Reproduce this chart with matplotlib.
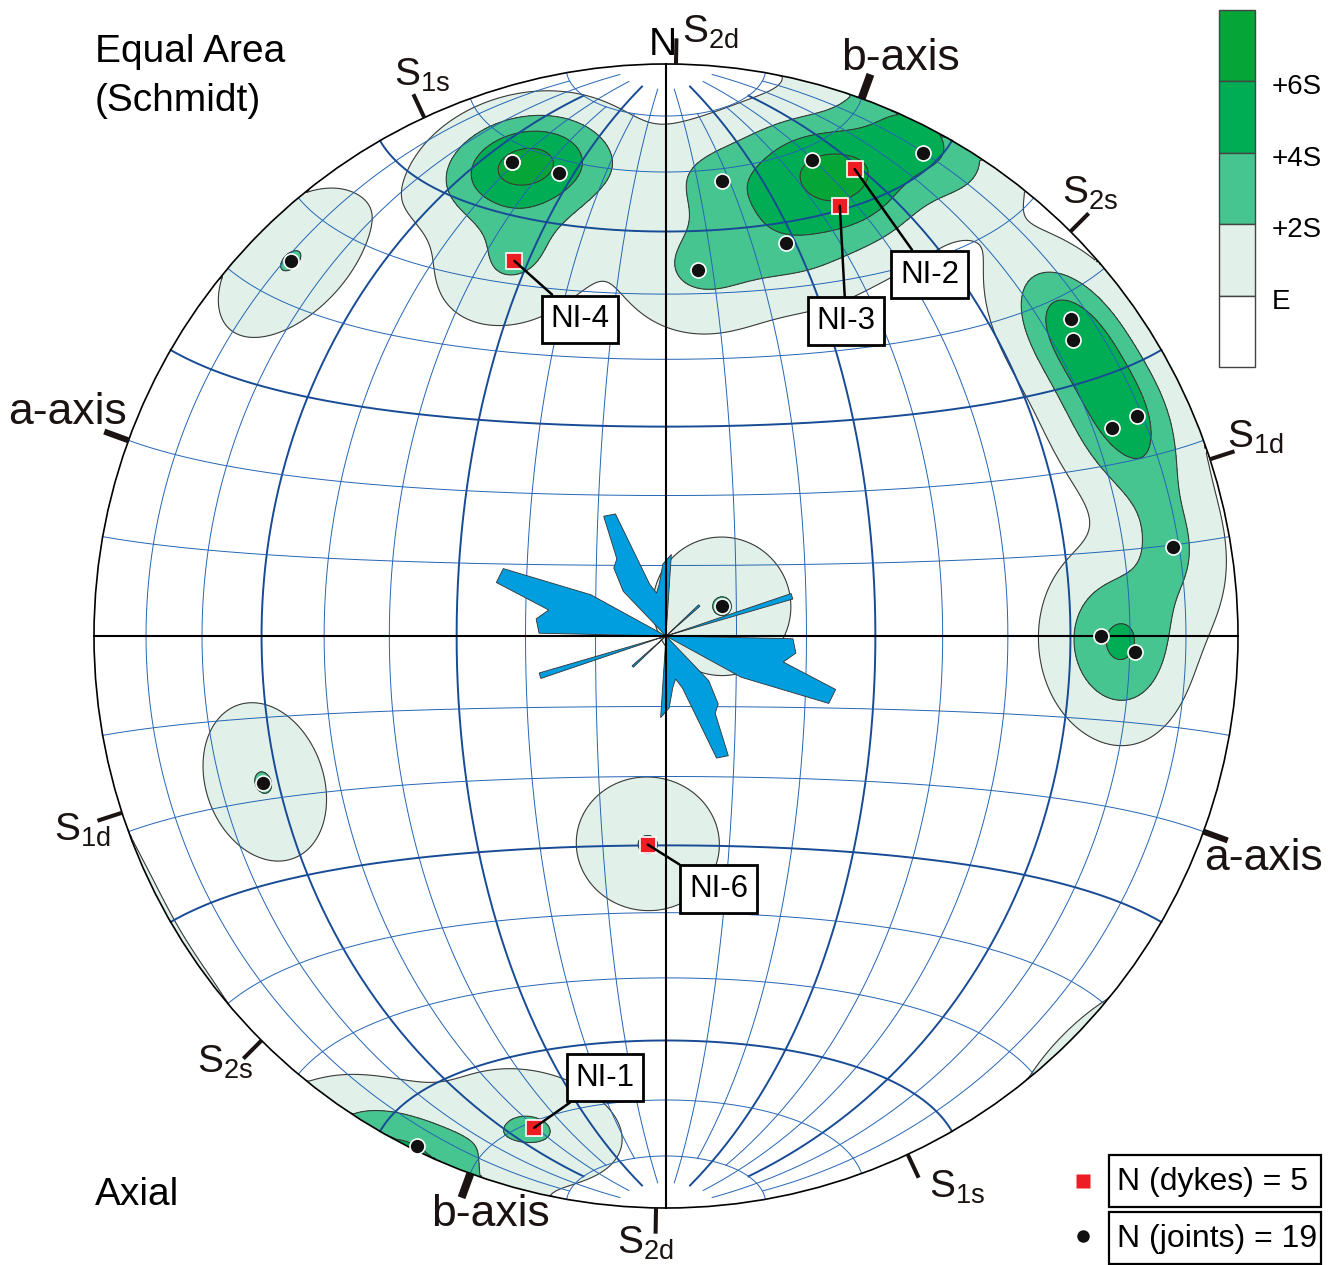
import numpy as np
import matplotlib.pyplot as plt
from matplotlib.patches import Circle, Rectangle, Polygon

plt.rcParams['font.family'] = ['Liberation Sans', 'DejaVu Sans']
plt.rcParams['mathtext.fontset'] = 'custom'
plt.rcParams['mathtext.rm'] = 'Liberation Sans'
plt.rcParams['mathtext.it'] = 'Liberation Sans'

# poles to joints, lower hemisphere (trend, plunge in degrees)
joint_trend = [342, 342, 347, 17, 28, 7, 17, 5, 52, 54, 65, 65, 80, 90, 92, 315, 250, 62, 206]
joint_plunge = [14, 14, 18, 14, 5, 21, 29, 36, 11, 13, 10, 15, 11, 25, 19, 8, 26, 81, 1]

# poles to dykes
dyke_names = ['NI-1', 'NI-2', 'NI-3', 'NI-4', 'NI-6']
dyke_trend = [195, 22, 22, 338, 185]
dyke_plunge = [12, 13, 20, 30, 60]

# rose of strikes, 5 degree bins (0-180, mirrored), length in % of net radius
rose_az = np.arange(2.5, 180, 5)
rose_pct = [14.3, 0, 0, 0, 0, 0, 0, 0, 0, 7.9, 0, 0, 0, 0, 23.1, 0, 0, 0,
            22.2, 22.9, 21.0, 31.1, 30.8, 15.0, 0, 0, 0, 10.8, 15.0, 16.0, 23.6, 23.1,
            9.5, 7.7, 9.1, 12.6]

# structural directions marked on the primitive
struct_labels = ['S$_{\\mathrm{2d}}$', 'b-axis', 'S$_{\\mathrm{2s}}$', 'S$_{\\mathrm{1d}}$',
                 'a-axis', 'S$_{\\mathrm{1s}}$']
struct_az = [1, 20, 45, 72, 110, 155]

contour_names = ['E', '+2S', '+4S', '+6S']
contour_colors = ['#e1f1e9', '#47c590', '#00ad55', '#05a537']
GRID = '#2565b5'
GRID_BOLD = '#184b95'
KAPPA = 92.0


def P(x, y):
    # page pixel -> net coordinates
    return (x - 666) / 572, (636 - y) / 572


def vec(trend, plunge):
    t, p = np.radians(trend), np.radians(plunge)
    return np.cos(p) * np.sin(t), np.cos(p) * np.cos(t), np.sin(p)


def proj(e, n, d):
    # Schmidt (equal area) lower hemisphere
    s = np.sqrt(1 + d)
    return e / s, n / s


fig = plt.figure(figsize=(13.42, 12.65), dpi=100)
ax = fig.add_axes([0, 0, 1, 1])
ax.set_xlim(-666 / 572, (1342 - 666) / 572)
ax.set_ylim((636 - 1265) / 572, 636 / 572)
ax.axis('off')

prim = Circle((0, 0), 1, transform=ax.transData)

# density contours (axial exponential kernel)
all_t = np.array(joint_trend + dyke_trend, float)
all_p = np.array(joint_plunge + dyke_plunge, float)
pts = np.array(vec(all_t, all_p)).T
n_pts = len(pts)

gx, gy = np.meshgrid(np.linspace(-1.01, 1.01, 451), np.linspace(-1.01, 1.01, 451))
r2 = np.minimum(gx ** 2 + gy ** 2, 1.0)
ge, gn, gd = gx * np.sqrt(2 - r2), gy * np.sqrt(2 - r2), 1 - r2
cosd = np.abs(ge[..., None] * pts[:, 0] + gn[..., None] * pts[:, 1] + gd[..., None] * pts[:, 2])
dens = np.exp(KAPPA * (cosd - 1)).sum(-1)

m1 = (1 - np.exp(-KAPPA)) / KAPPA
m2 = (1 - np.exp(-2 * KAPPA)) / (2 * KAPPA)
E = n_pts * m1
S = np.sqrt(n_pts * (m2 - m1 ** 2))
levels = [E, E + 2 * S, E + 4 * S, E + 6 * S]

cf = ax.contourf(gx, gy, dens, levels=levels + [dens.max() + 1], colors=contour_colors, zorder=1)
cl = ax.contour(gx, gy, dens, levels=levels, colors='#3a3a3a', linewidths=0.8, zorder=1.5)
cf.set_clip_path(prim)
cl.set_clip_path(prim)

# net: great circles through N-S and small circles about N-S, bolder every 30 deg
for lam in range(10, 180, 10):
    if lam == 90:
        continue
    lim = 85 if lam % 20 == 0 else 80
    phi = np.radians(np.linspace(-lim, lim, 300))
    l = np.radians(lam)
    x, y = proj(np.cos(phi) * np.cos(l), np.sin(phi), np.cos(phi) * np.sin(l))
    bold = lam % 30 == 0
    ax.plot(x, y, color=GRID_BOLD if bold else GRID, lw=1.4 if bold else 0.7, zorder=2)
for ph in range(-80, 90, 10):
    if ph == 0:
        continue
    lam = np.radians(np.linspace(0, 180, 300))
    p = np.radians(ph)
    x, y = proj(np.cos(p) * np.cos(lam), np.full_like(lam, np.sin(p)), np.cos(p) * np.sin(lam))
    bold = ph % 30 == 0
    ax.plot(x, y, color=GRID_BOLD if bold else GRID, lw=1.4 if bold else 0.7, zorder=2)

# rose diagram as a frequency polygon; runs of occupied bins open and close
# on narrow tips, empty bins fall back to the centre
half = 1.25
az_all = np.concatenate([rose_az, rose_az + 180])
len_all = np.array(rose_pct + rose_pct) / 100
nb = len(az_all)
verts = []
for i in range(nb):
    a, r = az_all[i], len_all[i]
    if r == 0:
        verts.append((0.0, 0.0))
        continue
    prev_empty = len_all[i - 1] == 0
    next_empty = len_all[(i + 1) % nb] == 0
    angles = []
    if prev_empty:
        angles.append(a - half)
    if not prev_empty and not next_empty:
        angles.append(a)
    if next_empty:
        angles.append(a + half)
    for aa in angles:
        t = np.radians(aa)
        verts.append((r * np.sin(t), r * np.cos(t)))
ax.add_patch(Polygon(verts, closed=True, facecolor='#009ddf', edgecolor='#333333',
                     lw=0.6, zorder=3))

ax.plot([-1, 1], [0, 0], color='black', lw=1.5, zorder=4)
ax.plot([0, 0], [-1, 1], color='black', lw=1.5, zorder=4)
ax.add_patch(Circle((0, 0), 1, fill=False, edgecolor='black', lw=1.2, zorder=4))

# ticks on the primitive
for lab, a in zip(struct_labels, struct_az):
    w = 5.8 if lab == 'b-axis' else 4.3 if lab == 'a-axis' else 2.9
    for aa in (a, a + 180):
        t = np.radians(aa)
        ax.plot([np.sin(t), 1.045 * np.sin(t)], [np.cos(t), 1.045 * np.cos(t)],
                color='#1a1311', lw=w, solid_capstyle='butt', zorder=4)

label_pos = {
    'S$_{\\mathrm{2d}}$': [(710, 32), (645, 1243)],
    'b-axis': [(900, 58), (490, 1215)],
    'S$_{\\mathrm{2s}}$': [(1090, 193), (225, 1062)],
    'S$_{\\mathrm{1d}}$': [(1255, 437), (82, 830)],
    'a-axis': [(1263, 858), (68, 413)],
    'S$_{\\mathrm{1s}}$': [(957, 1187), (422, 75)],
}
for lab, spots in label_pos.items():
    fs = 32 if 'axis' in lab else 28
    for sx, sy in spots:
        ax.text(*P(sx, sy), lab, fontsize=fs, ha='center', va='center', color='#1a1311', zorder=6)
ax.text(*P(663, 45), 'N', fontsize=28, ha='center', va='center', zorder=6)

ax.text(*P(95, 52), 'Equal Area', fontsize=28, ha='left', va='center')
ax.text(*P(95, 101), '(Schmidt)', fontsize=28, ha='left', va='center')
ax.text(*P(95, 1195), 'Axial', fontsize=28, ha='left', va='center')

# poles
jx, jy = proj(*vec(np.array(joint_trend, float), np.array(joint_plunge, float)))
ax.plot(jx, jy, 'o', ms=10.8, mfc='#111111', mec='white', mew=1.2, zorder=7)
dx, dy = proj(*vec(np.array(dyke_trend, float), np.array(dyke_plunge, float)))
ax.plot(dx, dy, 's', ms=11, mfc='#ee1d23', mec='white', mew=1.2, zorder=7)

label_offset = {'NI-1': (51, 36), 'NI-2': (54, -76), 'NI-3': (4.5, -83),
                'NI-4': (47, -42), 'NI-6': (51, -32)}
for name, x, y in zip(dyke_names, dx, dy):
    ax.annotate(name, (x, y), xytext=label_offset[name], textcoords='offset points',
                fontsize=22.5, ha='center', va='center', zorder=8,
                bbox=dict(boxstyle='square,pad=0.28', fc='white', ec='black', lw=2),
                arrowprops=dict(arrowstyle='-', color='black', lw=1.8, shrinkA=0, shrinkB=0))

# contour key
bounds = np.linspace(10, 367, 6)
key_cols = contour_colors[::-1] + ['white']
for i, c in enumerate(key_cols):
    x0, y0 = P(1219, bounds[i + 1])
    x1, y1 = P(1255, bounds[i])
    ax.add_patch(Rectangle((x0, y0), x1 - x0, y1 - y0, facecolor=c, edgecolor='#444444', lw=1))
for i, name in enumerate(contour_names[::-1]):
    ax.text(*P(1272, bounds[i + 1] + 6), name, fontsize=20, ha='left', va='center')

# legend
ax.plot(*P(1083, 1181), 's', ms=10, mfc='#ee1d23', mec='none')
ax.plot(*P(1083, 1236), 'o', ms=9, mfc='#111111', mec='none')
for top, txt in [(1155, f'N (dykes) = {len(dyke_trend)}'), (1212, f'N (joints) = {len(joint_trend)}')]:
    x0, y0 = P(1109, top + 52)
    x1, y1 = P(1321, top)
    ax.add_patch(Rectangle((x0, y0), x1 - x0, y1 - y0, facecolor='white', edgecolor='black', lw=1.6))
    ax.text(*P(1117, top + 27), txt, fontsize=23, ha='left', va='center')

fig.savefig('out.png', dpi=100)
